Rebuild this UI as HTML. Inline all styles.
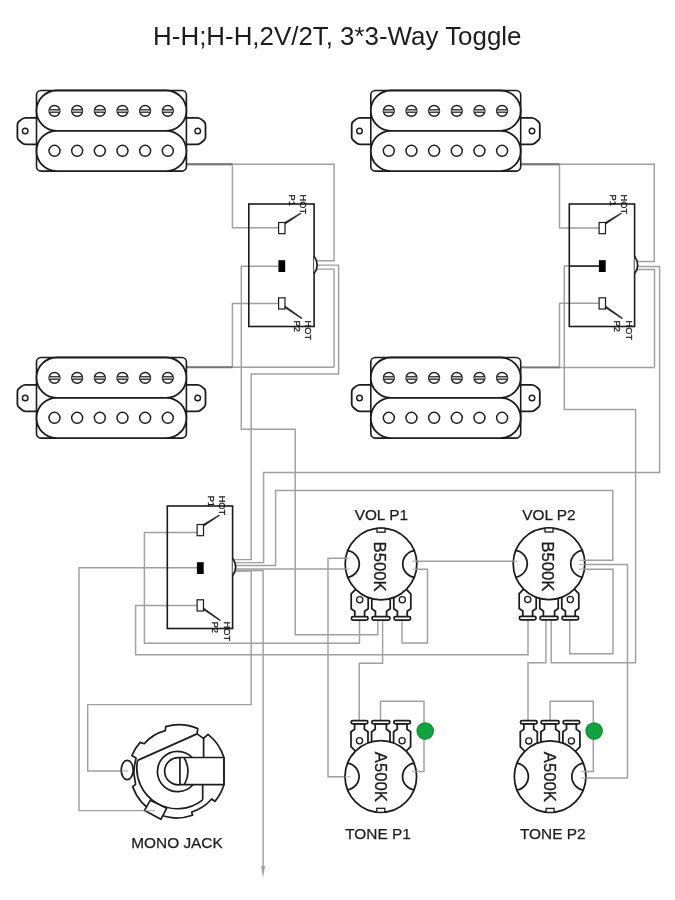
<!DOCTYPE html>
<html><head><meta charset="utf-8"><title>H-H;H-H,2V/2T, 3*3-Way Toggle</title>
<style>html,body{margin:0;padding:0;background:#fff;}body{width:675px;height:900px;overflow:hidden;font-family:"Liberation Sans",sans-serif;}svg{display:block;will-change:transform;}</style>
</head><body>
<svg width="675" height="900" viewBox="0 0 675 900">
<rect width="675" height="900" fill="#fff"/>
<g>
<path d="M186.3,164.2 L334.1,164.2 L334.1,260.7 L316,260.7" fill="none" stroke="#a0a0a0" stroke-width="1.45" stroke-linejoin="miter"/>
<path d="M186.3,164.4 L232.4,164.4 L232.4,227.7 L278.4,227.7" fill="none" stroke="#a0a0a0" stroke-width="1.45" stroke-linejoin="miter"/>
<path d="M278.4,303.4 L232.4,303.4 L232.4,367.3" fill="none" stroke="#a0a0a0" stroke-width="1.45" stroke-linejoin="miter"/>
<path d="M278.4,266.2 L241.3,266.2 L241.3,429.2 L295.2,429.2 L295.2,634.8 L377.8,634.8 L377.8,618" fill="none" stroke="#a0a0a0" stroke-width="1.45" stroke-linejoin="miter"/>
<path d="M316,265.1 L338.6,265.1 L338.6,374 L251.2,374 L251.2,559.6 L234,559.6" fill="none" stroke="#a0a0a0" stroke-width="1.45" stroke-linejoin="miter"/>
<path d="M316,269.1 L334.1,269.1 L334.1,367.3" fill="none" stroke="#a0a0a0" stroke-width="1.45" stroke-linejoin="miter"/>
<path d="M186.3,367.3 L334.1,367.3" fill="none" stroke="#a0a0a0" stroke-width="1.45" stroke-linejoin="miter"/>
<path d="M520.7,164.2 L654.3,164.2 L654.3,261.4 L636,261.4" fill="none" stroke="#a0a0a0" stroke-width="1.45" stroke-linejoin="miter"/>
<path d="M520.7,164.4 L559.5,164.4 L559.5,228 L598.8,228" fill="none" stroke="#a0a0a0" stroke-width="1.45" stroke-linejoin="miter"/>
<path d="M598.8,303.2 L559.5,303.2 L559.5,367.4" fill="none" stroke="#a0a0a0" stroke-width="1.45" stroke-linejoin="miter"/>
<path d="M598.8,266 L564.3,266 L564.3,409.4 L635.6,409.4 L635.6,662.8 L551.2,662.8 L551.2,618" fill="none" stroke="#a0a0a0" stroke-width="1.45" stroke-linejoin="miter"/>
<path d="M636,266.5 L659.6,266.5 L659.6,472.4 L263.6,472.4 L263.6,562.6 L234,562.6" fill="none" stroke="#a0a0a0" stroke-width="1.45" stroke-linejoin="miter"/>
<path d="M636,269.5 L654.5,269.5 L654.5,367.4" fill="none" stroke="#a0a0a0" stroke-width="1.45" stroke-linejoin="miter"/>
<path d="M520.7,367.4 L654.5,367.4" fill="none" stroke="#a0a0a0" stroke-width="1.45" stroke-linejoin="miter"/>
<path d="M234,565.5 L275.6,565.5 L275.6,490.4 L612.8,490.4 L612.8,560.3 L578,560.3" fill="none" stroke="#a0a0a0" stroke-width="1.45" stroke-linejoin="miter"/>
<path d="M234,568.9 L349,568.9" fill="none" stroke="#a0a0a0" stroke-width="1.45" stroke-linejoin="miter"/>
<path d="M234,570.9 L251.2,570.9 L251.2,704.6 L87.7,704.6 L87.7,771 L127,771" fill="none" stroke="#a0a0a0" stroke-width="1.45" stroke-linejoin="miter"/>
<path d="M234,570.5 L263.1,570.5 L263.1,867" fill="none" stroke="#a0a0a0" stroke-width="1.45" stroke-linejoin="miter"/>
<path d="M197,567.8 L79,567.8 L79,810.6 L154,810.6" fill="none" stroke="#a0a0a0" stroke-width="1.45" stroke-linejoin="miter"/>
<path d="M197,532.5 L144.4,532.5 L144.4,643.3 L359.5,643.3 L359.5,618" fill="none" stroke="#a0a0a0" stroke-width="1.45" stroke-linejoin="miter"/>
<path d="M197,605.5 L135.6,605.5 L135.6,654.7 L528,654.7 L528,618" fill="none" stroke="#a0a0a0" stroke-width="1.45" stroke-linejoin="miter"/>
<path d="M349,558.3 L328,558.3 L328,776.8 L350,776.8" fill="none" stroke="#a0a0a0" stroke-width="1.45" stroke-linejoin="miter"/>
<path d="M412,561.2 L518,561.2" fill="none" stroke="#a0a0a0" stroke-width="1.45" stroke-linejoin="miter"/>
<path d="M412,569.2 L427.5,569.2 L427.5,643 L402,643 L402,618" fill="none" stroke="#a0a0a0" stroke-width="1.45" stroke-linejoin="miter"/>
<path d="M382.6,618 L382.6,663.2 L359.2,663.2 L359.2,722" fill="none" stroke="#a0a0a0" stroke-width="1.45" stroke-linejoin="miter"/>
<path d="M380.5,722 L380.5,701.3 L424,701.3 L424,771.5 L412,771.5" fill="none" stroke="#a0a0a0" stroke-width="1.45" stroke-linejoin="miter"/>
<path d="M578,564.5 L627.5,564.5 L627.5,777.9 L585,777.9" fill="none" stroke="#a0a0a0" stroke-width="1.45" stroke-linejoin="miter"/>
<path d="M578,569.2 L613,569.2 L613,653.7 L569.7,653.7 L569.7,618" fill="none" stroke="#a0a0a0" stroke-width="1.45" stroke-linejoin="miter"/>
<path d="M545.9,618 L545.9,662.7 L528,662.7 L528,722" fill="none" stroke="#a0a0a0" stroke-width="1.45" stroke-linejoin="miter"/>
<path d="M550.1,722 L550.1,701.3 L593.3,701.3 L593.3,771.5 L580,771.5" fill="none" stroke="#a0a0a0" stroke-width="1.45" stroke-linejoin="miter"/>
</g>
<path d="M186.3,164.3 L232.4,164.3" fill="none" stroke="#777" stroke-width="1.9" stroke-linejoin="miter"/>
<path d="M186.3,367.3 L232.4,367.3" fill="none" stroke="#777" stroke-width="1.9" stroke-linejoin="miter"/>
<path d="M520.7,164.3 L559.5,164.3" fill="none" stroke="#777" stroke-width="1.9" stroke-linejoin="miter"/>
<path d="M520.7,367.4 L559.5,367.4" fill="none" stroke="#777" stroke-width="1.9" stroke-linejoin="miter"/>
<path d="M261.1,866 L265.1,866 L263.1,877.8 Z" fill="#a0a0a0"/>
<g transform="translate(36.5,90.5)"><g fill="#fff" stroke="#1c1c1c" stroke-width="1.8"><path d="M0,27.3 H-11 Q-13,27.3 -15,28.9 L-17.6,31 Q-19.1,32.3 -19.1,34.5 V46.5 Q-19.1,48.6 -17.6,49.8 L-15,52 Q-13,53.9 -11,53.9 H0" stroke-linejoin="round"/><path d="M149.9,27.3 H160.9 Q162.9,27.3 164.9,28.9 L167.5,31 Q169,32.3 169,34.5 V46.5 Q169,48.6 167.5,49.8 L164.9,52 Q162.9,53.9 160.9,53.9 H149.9" stroke-linejoin="round"/><circle cx="-11.3" cy="40.5" r="2.8" stroke-width="1.4"/><circle cx="161.2" cy="40.5" r="2.8" stroke-width="1.4"/><rect x="0" y="0" width="149.9" height="80.6" rx="4.5" stroke-width="1.6"/><rect x="0" y="0" width="149.9" height="40.3" rx="20.15"/><rect x="0" y="40.3" width="149.9" height="40.3" rx="20.15"/></g><g fill="#fff" stroke="#1c1c1c" stroke-width="1.45"><circle cx="18" cy="20.4" r="5.4"/><rect x="12.8" y="19.2" width="10.4" height="2.6" fill="#aaa" stroke="none"/><path d="M12.8,19.1 H23.2 M12.8,21.9 H23.2" stroke-width="0.9"/><circle cx="18" cy="60.3" r="5.5"/><circle cx="40.66" cy="20.4" r="5.4"/><rect x="35.46" y="19.2" width="10.4" height="2.6" fill="#aaa" stroke="none"/><path d="M35.46,19.1 H45.86 M35.46,21.9 H45.86" stroke-width="0.9"/><circle cx="40.66" cy="60.3" r="5.5"/><circle cx="63.32" cy="20.4" r="5.4"/><rect x="58.12" y="19.2" width="10.4" height="2.6" fill="#aaa" stroke="none"/><path d="M58.12,19.1 H68.52 M58.12,21.9 H68.52" stroke-width="0.9"/><circle cx="63.32" cy="60.3" r="5.5"/><circle cx="85.98" cy="20.4" r="5.4"/><rect x="80.78" y="19.2" width="10.4" height="2.6" fill="#aaa" stroke="none"/><path d="M80.78,19.1 H91.18 M80.78,21.9 H91.18" stroke-width="0.9"/><circle cx="85.98" cy="60.3" r="5.5"/><circle cx="108.64" cy="20.4" r="5.4"/><rect x="103.44" y="19.2" width="10.4" height="2.6" fill="#aaa" stroke="none"/><path d="M103.44,19.1 H113.84 M103.44,21.9 H113.84" stroke-width="0.9"/><circle cx="108.64" cy="60.3" r="5.5"/><circle cx="131.3" cy="20.4" r="5.4"/><rect x="126.1" y="19.2" width="10.4" height="2.6" fill="#aaa" stroke="none"/><path d="M126.1,19.1 H136.5 M126.1,21.9 H136.5" stroke-width="0.9"/><circle cx="131.3" cy="60.3" r="5.5"/></g></g>
<g transform="translate(370.8,90.5)"><g fill="#fff" stroke="#1c1c1c" stroke-width="1.8"><path d="M0,27.3 H-11 Q-13,27.3 -15,28.9 L-17.6,31 Q-19.1,32.3 -19.1,34.5 V46.5 Q-19.1,48.6 -17.6,49.8 L-15,52 Q-13,53.9 -11,53.9 H0" stroke-linejoin="round"/><path d="M149.9,27.3 H160.9 Q162.9,27.3 164.9,28.9 L167.5,31 Q169,32.3 169,34.5 V46.5 Q169,48.6 167.5,49.8 L164.9,52 Q162.9,53.9 160.9,53.9 H149.9" stroke-linejoin="round"/><circle cx="-11.3" cy="40.5" r="2.8" stroke-width="1.4"/><circle cx="161.2" cy="40.5" r="2.8" stroke-width="1.4"/><rect x="0" y="0" width="149.9" height="80.6" rx="4.5" stroke-width="1.6"/><rect x="0" y="0" width="149.9" height="40.3" rx="20.15"/><rect x="0" y="40.3" width="149.9" height="40.3" rx="20.15"/></g><g fill="#fff" stroke="#1c1c1c" stroke-width="1.45"><circle cx="18" cy="20.4" r="5.4"/><rect x="12.8" y="19.2" width="10.4" height="2.6" fill="#aaa" stroke="none"/><path d="M12.8,19.1 H23.2 M12.8,21.9 H23.2" stroke-width="0.9"/><circle cx="18" cy="60.3" r="5.5"/><circle cx="40.66" cy="20.4" r="5.4"/><rect x="35.46" y="19.2" width="10.4" height="2.6" fill="#aaa" stroke="none"/><path d="M35.46,19.1 H45.86 M35.46,21.9 H45.86" stroke-width="0.9"/><circle cx="40.66" cy="60.3" r="5.5"/><circle cx="63.32" cy="20.4" r="5.4"/><rect x="58.12" y="19.2" width="10.4" height="2.6" fill="#aaa" stroke="none"/><path d="M58.12,19.1 H68.52 M58.12,21.9 H68.52" stroke-width="0.9"/><circle cx="63.32" cy="60.3" r="5.5"/><circle cx="85.98" cy="20.4" r="5.4"/><rect x="80.78" y="19.2" width="10.4" height="2.6" fill="#aaa" stroke="none"/><path d="M80.78,19.1 H91.18 M80.78,21.9 H91.18" stroke-width="0.9"/><circle cx="85.98" cy="60.3" r="5.5"/><circle cx="108.64" cy="20.4" r="5.4"/><rect x="103.44" y="19.2" width="10.4" height="2.6" fill="#aaa" stroke="none"/><path d="M103.44,19.1 H113.84 M103.44,21.9 H113.84" stroke-width="0.9"/><circle cx="108.64" cy="60.3" r="5.5"/><circle cx="131.3" cy="20.4" r="5.4"/><rect x="126.1" y="19.2" width="10.4" height="2.6" fill="#aaa" stroke="none"/><path d="M126.1,19.1 H136.5 M126.1,21.9 H136.5" stroke-width="0.9"/><circle cx="131.3" cy="60.3" r="5.5"/></g></g>
<g transform="translate(36.5,357.5)"><g fill="#fff" stroke="#1c1c1c" stroke-width="1.8"><path d="M0,27.3 H-11 Q-13,27.3 -15,28.9 L-17.6,31 Q-19.1,32.3 -19.1,34.5 V46.5 Q-19.1,48.6 -17.6,49.8 L-15,52 Q-13,53.9 -11,53.9 H0" stroke-linejoin="round"/><path d="M149.9,27.3 H160.9 Q162.9,27.3 164.9,28.9 L167.5,31 Q169,32.3 169,34.5 V46.5 Q169,48.6 167.5,49.8 L164.9,52 Q162.9,53.9 160.9,53.9 H149.9" stroke-linejoin="round"/><circle cx="-11.3" cy="40.5" r="2.8" stroke-width="1.4"/><circle cx="161.2" cy="40.5" r="2.8" stroke-width="1.4"/><rect x="0" y="0" width="149.9" height="80.6" rx="4.5" stroke-width="1.6"/><rect x="0" y="0" width="149.9" height="40.3" rx="20.15"/><rect x="0" y="40.3" width="149.9" height="40.3" rx="20.15"/></g><g fill="#fff" stroke="#1c1c1c" stroke-width="1.45"><circle cx="18" cy="20.4" r="5.4"/><rect x="12.8" y="19.2" width="10.4" height="2.6" fill="#aaa" stroke="none"/><path d="M12.8,19.1 H23.2 M12.8,21.9 H23.2" stroke-width="0.9"/><circle cx="18" cy="60.3" r="5.5"/><circle cx="40.66" cy="20.4" r="5.4"/><rect x="35.46" y="19.2" width="10.4" height="2.6" fill="#aaa" stroke="none"/><path d="M35.46,19.1 H45.86 M35.46,21.9 H45.86" stroke-width="0.9"/><circle cx="40.66" cy="60.3" r="5.5"/><circle cx="63.32" cy="20.4" r="5.4"/><rect x="58.12" y="19.2" width="10.4" height="2.6" fill="#aaa" stroke="none"/><path d="M58.12,19.1 H68.52 M58.12,21.9 H68.52" stroke-width="0.9"/><circle cx="63.32" cy="60.3" r="5.5"/><circle cx="85.98" cy="20.4" r="5.4"/><rect x="80.78" y="19.2" width="10.4" height="2.6" fill="#aaa" stroke="none"/><path d="M80.78,19.1 H91.18 M80.78,21.9 H91.18" stroke-width="0.9"/><circle cx="85.98" cy="60.3" r="5.5"/><circle cx="108.64" cy="20.4" r="5.4"/><rect x="103.44" y="19.2" width="10.4" height="2.6" fill="#aaa" stroke="none"/><path d="M103.44,19.1 H113.84 M103.44,21.9 H113.84" stroke-width="0.9"/><circle cx="108.64" cy="60.3" r="5.5"/><circle cx="131.3" cy="20.4" r="5.4"/><rect x="126.1" y="19.2" width="10.4" height="2.6" fill="#aaa" stroke="none"/><path d="M126.1,19.1 H136.5 M126.1,21.9 H136.5" stroke-width="0.9"/><circle cx="131.3" cy="60.3" r="5.5"/></g></g>
<g transform="translate(370.8,357.5)"><g fill="#fff" stroke="#1c1c1c" stroke-width="1.8"><path d="M0,27.3 H-11 Q-13,27.3 -15,28.9 L-17.6,31 Q-19.1,32.3 -19.1,34.5 V46.5 Q-19.1,48.6 -17.6,49.8 L-15,52 Q-13,53.9 -11,53.9 H0" stroke-linejoin="round"/><path d="M149.9,27.3 H160.9 Q162.9,27.3 164.9,28.9 L167.5,31 Q169,32.3 169,34.5 V46.5 Q169,48.6 167.5,49.8 L164.9,52 Q162.9,53.9 160.9,53.9 H149.9" stroke-linejoin="round"/><circle cx="-11.3" cy="40.5" r="2.8" stroke-width="1.4"/><circle cx="161.2" cy="40.5" r="2.8" stroke-width="1.4"/><rect x="0" y="0" width="149.9" height="80.6" rx="4.5" stroke-width="1.6"/><rect x="0" y="0" width="149.9" height="40.3" rx="20.15"/><rect x="0" y="40.3" width="149.9" height="40.3" rx="20.15"/></g><g fill="#fff" stroke="#1c1c1c" stroke-width="1.45"><circle cx="18" cy="20.4" r="5.4"/><rect x="12.8" y="19.2" width="10.4" height="2.6" fill="#aaa" stroke="none"/><path d="M12.8,19.1 H23.2 M12.8,21.9 H23.2" stroke-width="0.9"/><circle cx="18" cy="60.3" r="5.5"/><circle cx="40.66" cy="20.4" r="5.4"/><rect x="35.46" y="19.2" width="10.4" height="2.6" fill="#aaa" stroke="none"/><path d="M35.46,19.1 H45.86 M35.46,21.9 H45.86" stroke-width="0.9"/><circle cx="40.66" cy="60.3" r="5.5"/><circle cx="63.32" cy="20.4" r="5.4"/><rect x="58.12" y="19.2" width="10.4" height="2.6" fill="#aaa" stroke="none"/><path d="M58.12,19.1 H68.52 M58.12,21.9 H68.52" stroke-width="0.9"/><circle cx="63.32" cy="60.3" r="5.5"/><circle cx="85.98" cy="20.4" r="5.4"/><rect x="80.78" y="19.2" width="10.4" height="2.6" fill="#aaa" stroke="none"/><path d="M80.78,19.1 H91.18 M80.78,21.9 H91.18" stroke-width="0.9"/><circle cx="85.98" cy="60.3" r="5.5"/><circle cx="108.64" cy="20.4" r="5.4"/><rect x="103.44" y="19.2" width="10.4" height="2.6" fill="#aaa" stroke="none"/><path d="M103.44,19.1 H113.84 M103.44,21.9 H113.84" stroke-width="0.9"/><circle cx="108.64" cy="60.3" r="5.5"/><circle cx="131.3" cy="20.4" r="5.4"/><rect x="126.1" y="19.2" width="10.4" height="2.6" fill="#aaa" stroke="none"/><path d="M126.1,19.1 H136.5 M126.1,21.9 H136.5" stroke-width="0.9"/><circle cx="131.3" cy="60.3" r="5.5"/></g></g>
<g transform="translate(248.8,204)"><rect x="0" y="0" width="65.3" height="122.5" fill="none" stroke="#1c1c1c" stroke-width="1.6"/><path d="M65.3,52.2 Q71.5,61 65.3,69.6" fill="#fff" stroke="#1c1c1c" stroke-width="1.7"/><rect x="29.8" y="18.5" width="6.4" height="11.2" fill="#fff" stroke="#1c1c1c" stroke-width="1.2"/><rect x="29.6" y="56.2" width="6.8" height="11.8" fill="#000"/><rect x="29.8" y="93.8" width="6.4" height="11.2" fill="#fff" stroke="#1c1c1c" stroke-width="1.2"/><path d="M36.4,20.2 L52.3,9.6 L51.7,8.9 L36.2,18.2 Z M36.2,103.8 L52.6,114.8 L53.2,114.0 L36.4,101.9 Z" fill="#1c1c1c" stroke="#1c1c1c" stroke-width="0.5" stroke-linejoin="round"/></g>
<text transform="translate(300.21,194.6) rotate(90)" font-size="9.2" font-family="Liberation Sans, sans-serif" fill="#1c1c1c" stroke="#1c1c1c" stroke-width="0.3">HOT</text>
<text transform="translate(289.41,194.6) rotate(90)" font-size="9.2" font-family="Liberation Sans, sans-serif" fill="#1c1c1c" stroke="#1c1c1c" stroke-width="0.3">P1</text>
<text transform="translate(305.21,320.6) rotate(90)" font-size="9.2" font-family="Liberation Sans, sans-serif" fill="#1c1c1c" stroke="#1c1c1c" stroke-width="0.3">HOT</text>
<text transform="translate(293.71,320.6) rotate(90)" font-size="9.2" font-family="Liberation Sans, sans-serif" fill="#1c1c1c" stroke="#1c1c1c" stroke-width="0.3">P2</text>
<g transform="translate(569.3,204)"><rect x="0" y="0" width="65.3" height="122.5" fill="none" stroke="#1c1c1c" stroke-width="1.6"/><path d="M65.3,52.2 Q71.5,61 65.3,69.6" fill="#fff" stroke="#1c1c1c" stroke-width="1.7"/><rect x="29.8" y="18.5" width="6.4" height="11.2" fill="#fff" stroke="#1c1c1c" stroke-width="1.2"/><rect x="29.6" y="56.2" width="6.8" height="11.8" fill="#000"/><rect x="29.8" y="93.8" width="6.4" height="11.2" fill="#fff" stroke="#1c1c1c" stroke-width="1.2"/><path d="M36.4,20.2 L52.3,9.6 L51.7,8.9 L36.2,18.2 Z M36.2,103.8 L52.6,114.8 L53.2,114.0 L36.4,101.9 Z" fill="#1c1c1c" stroke="#1c1c1c" stroke-width="0.5" stroke-linejoin="round"/></g>
<text transform="translate(620.71,194.6) rotate(90)" font-size="9.2" font-family="Liberation Sans, sans-serif" fill="#1c1c1c" stroke="#1c1c1c" stroke-width="0.3">HOT</text>
<text transform="translate(609.91,194.6) rotate(90)" font-size="9.2" font-family="Liberation Sans, sans-serif" fill="#1c1c1c" stroke="#1c1c1c" stroke-width="0.3">P1</text>
<text transform="translate(625.71,320.6) rotate(90)" font-size="9.2" font-family="Liberation Sans, sans-serif" fill="#1c1c1c" stroke="#1c1c1c" stroke-width="0.3">HOT</text>
<text transform="translate(614.21,320.6) rotate(90)" font-size="9.2" font-family="Liberation Sans, sans-serif" fill="#1c1c1c" stroke="#1c1c1c" stroke-width="0.3">P2</text>
<g transform="translate(167.3,506)"><rect x="0" y="0" width="65.3" height="122.5" fill="none" stroke="#1c1c1c" stroke-width="1.6"/><path d="M65.3,52.2 Q71.5,61 65.3,69.6" fill="#fff" stroke="#1c1c1c" stroke-width="1.7"/><rect x="29.8" y="18.5" width="6.4" height="11.2" fill="#fff" stroke="#1c1c1c" stroke-width="1.2"/><rect x="29.6" y="56.2" width="6.8" height="11.8" fill="#000"/><rect x="29.8" y="93.8" width="6.4" height="11.2" fill="#fff" stroke="#1c1c1c" stroke-width="1.2"/><path d="M36.4,20.2 L52.3,9.6 L51.7,8.9 L36.2,18.2 Z M36.2,103.8 L52.6,114.8 L53.2,114.0 L36.4,101.9 Z" fill="#1c1c1c" stroke="#1c1c1c" stroke-width="0.5" stroke-linejoin="round"/></g>
<text transform="translate(218.71,495.7) rotate(90)" font-size="9.2" font-family="Liberation Sans, sans-serif" fill="#1c1c1c" stroke="#1c1c1c" stroke-width="0.3">HOT</text>
<text transform="translate(207.91,495.7) rotate(90)" font-size="9.2" font-family="Liberation Sans, sans-serif" fill="#1c1c1c" stroke="#1c1c1c" stroke-width="0.3">P1</text>
<text transform="translate(223.71,621.7) rotate(90)" font-size="9.2" font-family="Liberation Sans, sans-serif" fill="#1c1c1c" stroke="#1c1c1c" stroke-width="0.3">HOT</text>
<text transform="translate(212.21,621.7) rotate(90)" font-size="9.2" font-family="Liberation Sans, sans-serif" fill="#1c1c1c" stroke="#1c1c1c" stroke-width="0.3">P2</text>
<path d="M569.7,266.1 H599" stroke="#111" stroke-width="1.4"/>
<g transform="translate(381,564)"><g fill="#fff" stroke="#1c1c1c" stroke-width="1.75"><path d="M-25.6,25.6 L-29.8,29.8 L-29.8,44.8 L-26.2,47.2 L-26.2,53 L-16.4,53 L-16.4,47.2 L-12.8,44.8 L-12.8,25.6 Z"/><rect x="-29.6" y="52.6" width="16.6" height="3.4" rx="1.6"/><circle cx="-21.3" cy="35.7" r="3.1" stroke-width="1.3"/><path d="M-9.2,25.6 L-9.2,44.8 L-5.6,47.2 L-5.6,53 L5.6,53 L5.6,47.2 L9.2,44.8 L9.2,25.6 Z"/><rect x="-9" y="52.6" width="18" height="3.4" rx="1.6"/><path d="M12.8,25.6 L12.8,44.8 L16.4,47.2 L16.4,53 L26.2,53 L26.2,47.2 L29.8,44.8 L29.8,29.8 L25.6,25.6 Z"/><rect x="13" y="52.6" width="16.6" height="3.4" rx="1.6"/><circle cx="21.3" cy="35.7" r="3.1" stroke-width="1.3"/><circle cx="0" cy="0" r="35.8"/><rect x="-4" y="-35.8" width="8" height="4" stroke-width="1.3"/><path d="M-33.6,-13.4 A13.5,13.5 0 0 1 -33.6,13.4 M33.6,-13.4 A13.5,13.5 0 0 0 33.6,13.4" fill="none"/></g></g>
<text transform="translate(374.22,566.6) rotate(90)" font-size="16.7" font-family="Liberation Sans, sans-serif" fill="#1c1c1c" stroke="#1c1c1c" stroke-width="0.35" text-anchor="middle">B500K</text>
<g transform="translate(549,563.8)"><g fill="#fff" stroke="#1c1c1c" stroke-width="1.75"><path d="M-25.6,25.6 L-29.8,29.8 L-29.8,44.8 L-26.2,47.2 L-26.2,53 L-16.4,53 L-16.4,47.2 L-12.8,44.8 L-12.8,25.6 Z"/><rect x="-29.6" y="52.6" width="16.6" height="3.4" rx="1.6"/><circle cx="-21.3" cy="35.7" r="3.1" stroke-width="1.3"/><path d="M-9.2,25.6 L-9.2,44.8 L-5.6,47.2 L-5.6,53 L5.6,53 L5.6,47.2 L9.2,44.8 L9.2,25.6 Z"/><rect x="-9" y="52.6" width="18" height="3.4" rx="1.6"/><path d="M12.8,25.6 L12.8,44.8 L16.4,47.2 L16.4,53 L26.2,53 L26.2,47.2 L29.8,44.8 L29.8,29.8 L25.6,25.6 Z"/><rect x="13" y="52.6" width="16.6" height="3.4" rx="1.6"/><circle cx="21.3" cy="35.7" r="3.1" stroke-width="1.3"/><circle cx="0" cy="0" r="35.8"/><rect x="-4" y="-35.8" width="8" height="4" stroke-width="1.3"/><path d="M-33.6,-13.4 A13.5,13.5 0 0 1 -33.6,13.4 M33.6,-13.4 A13.5,13.5 0 0 0 33.6,13.4" fill="none"/></g></g>
<text transform="translate(542.22,566.4) rotate(90)" font-size="16.7" font-family="Liberation Sans, sans-serif" fill="#1c1c1c" stroke="#1c1c1c" stroke-width="0.35" text-anchor="middle">B500K</text>
<g transform="translate(380.8,776.5) scale(1,-1)"><g fill="#fff" stroke="#1c1c1c" stroke-width="1.75"><path d="M-25.6,25.6 L-29.8,29.8 L-29.8,44.8 L-26.2,47.2 L-26.2,53 L-16.4,53 L-16.4,47.2 L-12.8,44.8 L-12.8,25.6 Z"/><rect x="-29.6" y="52.6" width="16.6" height="3.4" rx="1.6"/><circle cx="-21.3" cy="35.7" r="3.1" stroke-width="1.3"/><path d="M-9.2,25.6 L-9.2,44.8 L-5.6,47.2 L-5.6,53 L5.6,53 L5.6,47.2 L9.2,44.8 L9.2,25.6 Z"/><rect x="-9" y="52.6" width="18" height="3.4" rx="1.6"/><path d="M12.8,25.6 L12.8,44.8 L16.4,47.2 L16.4,53 L26.2,53 L26.2,47.2 L29.8,44.8 L29.8,29.8 L25.6,25.6 Z"/><rect x="13" y="52.6" width="16.6" height="3.4" rx="1.6"/><circle cx="21.3" cy="35.7" r="3.1" stroke-width="1.3"/><circle cx="0" cy="0" r="35.8"/><rect x="-4" y="-35.8" width="8" height="4" stroke-width="1.3"/><path d="M-33.6,-13.4 A13.5,13.5 0 0 1 -33.6,13.4 M33.6,-13.4 A13.5,13.5 0 0 0 33.6,13.4" fill="none"/></g></g>
<text transform="translate(375.12,776.8) rotate(90)" font-size="16.7" font-family="Liberation Sans, sans-serif" fill="#1c1c1c" stroke="#1c1c1c" stroke-width="0.35" text-anchor="middle">A500K</text>
<g transform="translate(550.1,776.6) scale(1,-1)"><g fill="#fff" stroke="#1c1c1c" stroke-width="1.75"><path d="M-25.6,25.6 L-29.8,29.8 L-29.8,44.8 L-26.2,47.2 L-26.2,53 L-16.4,53 L-16.4,47.2 L-12.8,44.8 L-12.8,25.6 Z"/><rect x="-29.6" y="52.6" width="16.6" height="3.4" rx="1.6"/><circle cx="-21.3" cy="35.7" r="3.1" stroke-width="1.3"/><path d="M-9.2,25.6 L-9.2,44.8 L-5.6,47.2 L-5.6,53 L5.6,53 L5.6,47.2 L9.2,44.8 L9.2,25.6 Z"/><rect x="-9" y="52.6" width="18" height="3.4" rx="1.6"/><path d="M12.8,25.6 L12.8,44.8 L16.4,47.2 L16.4,53 L26.2,53 L26.2,47.2 L29.8,44.8 L29.8,29.8 L25.6,25.6 Z"/><rect x="13" y="52.6" width="16.6" height="3.4" rx="1.6"/><circle cx="21.3" cy="35.7" r="3.1" stroke-width="1.3"/><circle cx="0" cy="0" r="35.8"/><rect x="-4" y="-35.8" width="8" height="4" stroke-width="1.3"/><path d="M-33.6,-13.4 A13.5,13.5 0 0 1 -33.6,13.4 M33.6,-13.4 A13.5,13.5 0 0 0 33.6,13.4" fill="none"/></g></g>
<text transform="translate(544.42,776.9) rotate(90)" font-size="16.7" font-family="Liberation Sans, sans-serif" fill="#1c1c1c" stroke="#1c1c1c" stroke-width="0.35" text-anchor="middle">A500K</text>
<path d="M345,558.3 L349.5,558.3" fill="none" stroke="#b4b4b4" stroke-width="1.2" stroke-linejoin="miter"/>
<path d="M345,568.9 L349.5,568.9" fill="none" stroke="#b4b4b4" stroke-width="1.2" stroke-linejoin="miter"/>
<path d="M417,561.2 L412.3,561.2" fill="none" stroke="#b4b4b4" stroke-width="1.2" stroke-linejoin="miter"/>
<path d="M417,569.2 L412.3,569.2" fill="none" stroke="#b4b4b4" stroke-width="1.2" stroke-linejoin="miter"/>
<path d="M513,561.2 L517.6,561.2" fill="none" stroke="#b4b4b4" stroke-width="1.2" stroke-linejoin="miter"/>
<path d="M585,560.3 L579,560.3" fill="none" stroke="#b4b4b4" stroke-width="1.2" stroke-linejoin="miter"/>
<path d="M585,564.5 L579,564.5" fill="none" stroke="#b4b4b4" stroke-width="1.2" stroke-linejoin="miter"/>
<path d="M585,569.2 L579,569.2" fill="none" stroke="#b4b4b4" stroke-width="1.2" stroke-linejoin="miter"/>
<path d="M345,776.8 L350.7,776.8" fill="none" stroke="#b4b4b4" stroke-width="1.2" stroke-linejoin="miter"/>
<path d="M416.8,771.5 L412,771.5" fill="none" stroke="#b4b4b4" stroke-width="1.2" stroke-linejoin="miter"/>
<path d="M586.5,771.5 L581,771.5" fill="none" stroke="#b4b4b4" stroke-width="1.2" stroke-linejoin="miter"/>
<path d="M586.5,777.9 L581,777.9" fill="none" stroke="#b4b4b4" stroke-width="1.2" stroke-linejoin="miter"/>
<circle cx="425.2" cy="731" r="8.2" fill="#10a33e" stroke="#0b8433" stroke-width="1.1"/>
<circle cx="594.1" cy="731" r="8.2" fill="#10a33e" stroke="#0b8433" stroke-width="1.1"/>
<g fill="#fff" stroke="#1c1c1c" stroke-width="1.7" stroke-linejoin="round"><ellipse cx="127.2" cy="770" rx="6" ry="9.7"/><path d="M165.7,726.6 A47,47 0 0 1 197.8,728.6 L197,733.9 L203.5,738.4 L208,734.3 A47,47 0 0 1 223.9,757.5 L223.9,784.7 A47,47 0 0 1 214.9,801.4 L211.7,799 A44,44 0 0 1 191.7,812 L192.5,815.3 A47,47 0 0 1 132.7,786.7 L135.6,784.3 L133.8,773 L134.6,765 L136,758 L131.9,755.5 A47,47 0 0 1 140.1,742.4 L144.2,743.7 A42.5,42.5 0 0 1 165.3,730.6 Z"/><path d="M137.6,760.4 A40.5,40.5 0 0 0 202.7,799.8 M137.6,760.4 L197,733.9 M203.6,738.4 V757.5 M202.7,784.7 V799.8" fill="none"/><path d="M192.2,757.5 A20.2,20.2 0 1 0 192.9,784.7" fill="none"/><path d="M179.9,757.7 A13.6,13.6 0 1 0 179.9,784.7" fill="none"/><rect x="179.9" y="757.5" width="44" height="27.2"/><path d="M184,757.6 Q191.8,771 184.4,784.7" fill="none"/><path d="M150.3,800.2 L166.6,808.3 L160.9,819.3 L144.6,810.4 Z"/></g>
<path d="M121.5,771 L128,771" fill="none" stroke="#b4b4b4" stroke-width="1.2" stroke-linejoin="miter"/>
<path d="M144.8,810.6 L155,810.6" fill="none" stroke="#b4b4b4" stroke-width="1.2" stroke-linejoin="miter"/>
<text x="337.3" y="45.3" font-size="25.9" font-family="Liberation Sans, sans-serif" fill="#1c1c1c" text-anchor="middle">H-H;H-H,2V/2T, 3*3-Way Toggle</text>
<text x="381.3" y="519.8" font-size="15.4" font-family="Liberation Sans, sans-serif" fill="#1c1c1c" stroke="#1c1c1c" stroke-width="0.25" text-anchor="middle">VOL P1</text>
<text x="549" y="519.8" font-size="15.4" font-family="Liberation Sans, sans-serif" fill="#1c1c1c" stroke="#1c1c1c" stroke-width="0.25" text-anchor="middle">VOL P2</text>
<text x="378" y="839.2" font-size="15.4" font-family="Liberation Sans, sans-serif" fill="#1c1c1c" stroke="#1c1c1c" stroke-width="0.25" text-anchor="middle">TONE P1</text>
<text x="552.8" y="839.2" font-size="15.4" font-family="Liberation Sans, sans-serif" fill="#1c1c1c" stroke="#1c1c1c" stroke-width="0.25" text-anchor="middle">TONE P2</text>
<text x="177" y="847.6" font-size="15.4" font-family="Liberation Sans, sans-serif" fill="#1c1c1c" stroke="#1c1c1c" stroke-width="0.25" text-anchor="middle">MONO JACK</text>
</svg>
</body></html>
